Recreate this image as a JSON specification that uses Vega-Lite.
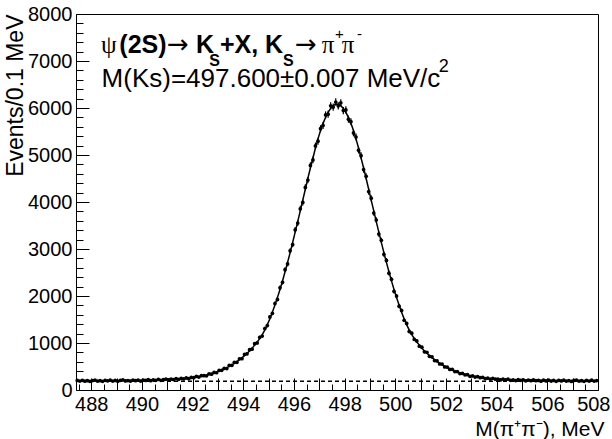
{
"$schema": "https://vega.github.io/schema/vega-lite/v6.json",
"width": 522, "height": 376,
"autosize": "none",
"padding": {"left": 76, "top": 14, "right": 14, "bottom": 49},
"background": "white",
"config": {"view": {"stroke": "black", "strokeWidth": 1}, "font": "Liberation Sans",
  "axis": {"grid": false, "domain": false, "labelFont": "Liberation Sans", "labelFontSize": 20, "labelColor": "black", "tickColor": "black", "titleFont": "Liberation Sans", "titleFontWeight": "normal", "titleColor": "black", "labelOverlap": false}},
"datasets": {"h": [
{"x":487.45,"y":204,"e":14,"f":196},{"x":487.55,"y":190,"e":14,"f":196},{"x":487.65,"y":207,"e":14,"f":196},{"x":487.75,"y":187,"e":14,"f":196},{"x":487.85,"y":199,"e":14,"f":196},{"x":487.95,"y":184,"e":14,"f":196},{"x":488.05,"y":202,"e":14,"f":196},{"x":488.15,"y":211,"e":15,"f":197},{"x":488.25,"y":190,"e":14,"f":197},{"x":488.35,"y":198,"e":14,"f":197},
{"x":488.45,"y":186,"e":14,"f":197},{"x":488.55,"y":206,"e":14,"f":197},{"x":488.65,"y":195,"e":14,"f":198},{"x":488.75,"y":210,"e":14,"f":198},{"x":488.85,"y":190,"e":14,"f":198},{"x":488.95,"y":203,"e":14,"f":199},{"x":489.05,"y":185,"e":14,"f":199},{"x":489.15,"y":206,"e":14,"f":199},{"x":489.25,"y":213,"e":15,"f":200},{"x":489.35,"y":194,"e":14,"f":200},
{"x":489.45,"y":202,"e":14,"f":200},{"x":489.55,"y":191,"e":14,"f":201},{"x":489.65,"y":211,"e":15,"f":201},{"x":489.75,"y":198,"e":14,"f":202},{"x":489.85,"y":209,"e":14,"f":203},{"x":489.95,"y":191,"e":14,"f":204},{"x":490.05,"y":210,"e":14,"f":205},{"x":490.15,"y":204,"e":14,"f":206},{"x":490.25,"y":219,"e":15,"f":207},{"x":490.35,"y":199,"e":14,"f":208},
{"x":490.45,"y":217,"e":15,"f":210},{"x":490.55,"y":206,"e":14,"f":211},{"x":490.65,"y":227,"e":15,"f":213},{"x":490.75,"y":206,"e":14,"f":214},{"x":490.85,"y":220,"e":15,"f":217},{"x":490.95,"y":230,"e":15,"f":219},{"x":491.05,"y":215,"e":15,"f":222},{"x":491.15,"y":233,"e":15,"f":224},{"x":491.25,"y":223,"e":15,"f":227},{"x":491.35,"y":243,"e":16,"f":230},
{"x":491.45,"y":228,"e":15,"f":234},{"x":491.55,"y":247,"e":16,"f":237},{"x":491.65,"y":238,"e":15,"f":241},{"x":491.75,"y":257,"e":16,"f":245},{"x":491.85,"y":242,"e":16,"f":251},{"x":491.95,"y":268,"e":16,"f":260},{"x":492.05,"y":261,"e":16,"f":266},{"x":492.15,"y":291,"e":17,"f":277},{"x":492.25,"y":276,"e":17,"f":286},{"x":492.35,"y":304,"e":17,"f":295},
{"x":492.45,"y":305,"e":17,"f":301},{"x":492.55,"y":301,"e":17,"f":313},{"x":492.65,"y":345,"e":19,"f":330},{"x":492.75,"y":337,"e":18,"f":345},{"x":492.85,"y":374,"e":19,"f":363},{"x":492.95,"y":367,"e":19,"f":381},{"x":493.05,"y":418,"e":20,"f":401},{"x":493.15,"y":419,"e":20,"f":425},{"x":493.25,"y":461,"e":21,"f":448},{"x":493.35,"y":457,"e":21,"f":475},
{"x":493.45,"y":524,"e":23,"f":504},{"x":493.55,"y":524,"e":23,"f":534},{"x":493.65,"y":588,"e":24,"f":566},{"x":493.75,"y":589,"e":24,"f":604},{"x":493.85,"y":664,"e":26,"f":646},{"x":493.95,"y":667,"e":26,"f":687},{"x":494.05,"y":756,"e":27,"f":731},{"x":494.15,"y":769,"e":28,"f":781},{"x":494.25,"y":859,"e":29,"f":831},{"x":494.35,"y":868,"e":29,"f":890},
{"x":494.45,"y":985,"e":31,"f":955},{"x":494.55,"y":1002,"e":32,"f":1020},{"x":494.65,"y":1121,"e":33,"f":1096},{"x":494.75,"y":1149,"e":34,"f":1179},{"x":494.85,"y":1308,"e":36,"f":1273},{"x":494.95,"y":1371,"e":37,"f":1391},{"x":495.05,"y":1554,"e":39,"f":1514},{"x":495.15,"y":1631,"e":40,"f":1656},{"x":495.25,"y":1839,"e":43,"f":1809},{"x":495.35,"y":1928,"e":44,"f":1968},
{"x":495.45,"y":2174,"e":47,"f":2139},{"x":495.55,"y":2291,"e":48,"f":2321},{"x":495.65,"y":2561,"e":51,"f":2516},{"x":495.75,"y":2681,"e":52,"f":2716},{"x":495.85,"y":2962,"e":54,"f":2922},{"x":495.95,"y":3095,"e":56,"f":3140},{"x":496.05,"y":3408,"e":58,"f":3358},{"x":496.15,"y":3552,"e":60,"f":3582},{"x":496.25,"y":3856,"e":62,"f":3811},{"x":496.35,"y":3991,"e":63,"f":4041},
{"x":496.45,"y":4311,"e":66,"f":4271},{"x":496.55,"y":4466,"e":67,"f":4501},{"x":496.65,"y":4779,"e":69,"f":4724},{"x":496.75,"y":4896,"e":70,"f":4936},{"x":496.85,"y":5193,"e":72,"f":5148},{"x":496.95,"y":5293,"e":73,"f":5343},{"x":497.05,"y":5560,"e":75,"f":5520},{"x":497.15,"y":5628,"e":75,"f":5673},{"x":497.25,"y":5852,"e":76,"f":5802},{"x":497.35,"y":5868,"e":77,"f":5908},
{"x":497.45,"y":6046,"e":78,"f":5991},{"x":497.55,"y":6020,"e":78,"f":6050},{"x":497.65,"y":6127,"e":78,"f":6082},{"x":497.75,"y":6047,"e":78,"f":6082},{"x":497.85,"y":6110,"e":78,"f":6050},{"x":497.95,"y":5946,"e":77,"f":5991},{"x":498.05,"y":5958,"e":77,"f":5908},{"x":498.15,"y":5762,"e":76,"f":5802},{"x":498.25,"y":5708,"e":76,"f":5673},{"x":498.35,"y":5470,"e":74,"f":5520},
{"x":498.45,"y":5383,"e":73,"f":5343},{"x":498.55,"y":5103,"e":71,"f":5148},{"x":498.65,"y":4986,"e":71,"f":4936},{"x":498.75,"y":4689,"e":68,"f":4724},{"x":498.85,"y":4546,"e":67,"f":4501},{"x":498.95,"y":4221,"e":65,"f":4271},{"x":499.05,"y":4081,"e":64,"f":4041},{"x":499.15,"y":3766,"e":61,"f":3811},{"x":499.25,"y":3617,"e":60,"f":3582},{"x":499.35,"y":3318,"e":58,"f":3358},
{"x":499.45,"y":3185,"e":56,"f":3140},{"x":499.55,"y":2887,"e":54,"f":2922},{"x":499.65,"y":2756,"e":52,"f":2716},{"x":499.75,"y":2486,"e":50,"f":2516},{"x":499.85,"y":2356,"e":49,"f":2321},{"x":499.95,"y":2099,"e":46,"f":2139},{"x":500.05,"y":1998,"e":45,"f":1968},{"x":500.15,"y":1784,"e":42,"f":1809},{"x":500.25,"y":1691,"e":41,"f":1656},{"x":500.35,"y":1484,"e":39,"f":1514},
{"x":500.45,"y":1416,"e":38,"f":1391},{"x":500.55,"y":1245,"e":35,"f":1273},{"x":500.65,"y":1209,"e":35,"f":1179},{"x":500.75,"y":1076,"e":33,"f":1096},{"x":500.85,"y":1045,"e":32,"f":1020},{"x":500.95,"y":933,"e":31,"f":955},{"x":501.05,"y":910,"e":30,"f":890},{"x":501.15,"y":813,"e":29,"f":831},{"x":501.25,"y":803,"e":28,"f":781},{"x":501.35,"y":716,"e":27,"f":731},
{"x":501.45,"y":705,"e":27,"f":687},{"x":501.55,"y":626,"e":25,"f":646},{"x":501.65,"y":619,"e":25,"f":604},{"x":501.75,"y":554,"e":24,"f":566},{"x":501.85,"y":551,"e":23,"f":534},{"x":501.95,"y":490,"e":22,"f":504},{"x":502.05,"y":487,"e":22,"f":475},{"x":502.15,"y":438,"e":21,"f":448},{"x":502.25,"y":439,"e":21,"f":425},{"x":502.35,"y":392,"e":20,"f":401},
{"x":502.45,"y":392,"e":20,"f":381},{"x":502.55,"y":350,"e":19,"f":363},{"x":502.65,"y":353,"e":19,"f":345},{"x":502.75,"y":324,"e":18,"f":330},{"x":502.85,"y":325,"e":18,"f":313},{"x":502.95,"y":291,"e":17,"f":301},{"x":503.05,"y":300,"e":17,"f":295},{"x":503.15,"y":274,"e":17,"f":286},{"x":503.25,"y":286,"e":17,"f":277},{"x":503.35,"y":262,"e":16,"f":266},
{"x":503.45,"y":270,"e":16,"f":260},{"x":503.55,"y":240,"e":15,"f":251},{"x":503.65,"y":251,"e":16,"f":245},{"x":503.75,"y":233,"e":15,"f":241},{"x":503.85,"y":250,"e":16,"f":237},{"x":503.95,"y":229,"e":15,"f":234},{"x":504.05,"y":233,"e":15,"f":230},{"x":504.15,"y":215,"e":15,"f":227},{"x":504.25,"y":233,"e":15,"f":224},{"x":504.35,"y":216,"e":15,"f":222},
{"x":504.45,"y":230,"e":15,"f":219},{"x":504.55,"y":207,"e":14,"f":217},{"x":504.65,"y":218,"e":15,"f":214},{"x":504.75,"y":200,"e":14,"f":213},{"x":504.85,"y":219,"e":15,"f":211},{"x":504.95,"y":207,"e":14,"f":210},{"x":505.05,"y":218,"e":15,"f":208},{"x":505.15,"y":195,"e":14,"f":207},{"x":505.25,"y":212,"e":15,"f":206},{"x":505.35,"y":197,"e":14,"f":205},
{"x":505.45,"y":217,"e":15,"f":204},{"x":505.55,"y":198,"e":14,"f":203},{"x":505.65,"y":204,"e":14,"f":202},{"x":505.75,"y":187,"e":14,"f":201},{"x":505.85,"y":210,"e":14,"f":201},{"x":505.95,"y":194,"e":14,"f":200},{"x":506.05,"y":212,"e":15,"f":200},{"x":506.15,"y":190,"e":14,"f":200},{"x":506.25,"y":204,"e":14,"f":199},{"x":506.35,"y":186,"e":14,"f":199},
{"x":506.45,"y":207,"e":14,"f":199},{"x":506.55,"y":194,"e":14,"f":198},{"x":506.65,"y":209,"e":14,"f":198},{"x":506.75,"y":189,"e":14,"f":198},{"x":506.85,"y":200,"e":14,"f":197},{"x":506.95,"y":182,"e":13,"f":197},{"x":507.05,"y":204,"e":14,"f":197},{"x":507.15,"y":211,"e":15,"f":197},{"x":507.25,"y":189,"e":14,"f":197},{"x":507.35,"y":198,"e":14,"f":196},
{"x":507.45,"y":185,"e":14,"f":196},{"x":507.55,"y":206,"e":14,"f":196},{"x":507.65,"y":191,"e":14,"f":196},{"x":507.75,"y":209,"e":14,"f":196},{"x":507.85,"y":189,"e":14,"f":196},{"x":507.95,"y":200,"e":14,"f":196}
]},
"layer": [
 {"data": {"name": "h"}, "mark": {"type": "point", "opacity": 0},
  "encoding": {
   "x": {"field": "x", "type": "quantitative", "scale": {"domain": [487.4, 508], "nice": false, "zero": false},
     "axis": {"orient": "bottom", "values": [487.5,488.5,489,489.5,490.5,491,491.5,492.5,493,493.5,494.5,495,495.5,496.5,497,497.5,498.5,499,499.5,500.5,501,501.5,502.5,503,503.5,504.5,505,505.5,506.5,507,507.5], "labels": false, "title": null, "tickSize": -6}},
   "y": {"field": "y", "type": "quantitative", "scale": {"domain": [0, 8000], "nice": false},
     "axis": {"orient": "left", "values": [200,400,600,800,1200,1400,1600,1800,2200,2400,2600,2800,3200,3400,3600,3800,4200,4400,4600,4800,5200,5400,5600,5800,6200,6400,6600,6800,7200,7400,7600,7800], "labels": false, "title": null, "tickSize": -7}}
  }},
 {"data": {"name": "h"}, "mark": {"type": "line", "color": "black", "strokeWidth": 1.5},
  "encoding": {
   "x": {"field": "x", "type": "quantitative",
     "axis": {"orient": "bottom", "values": [488,489,490,491,492,493,494,495,496,497,498,499,500,501,502,503,504,505,506,507,508], "format": "d", "labelExpr": "datum.value % 2 == 0 ? datum.label : ''", "labelFlush": true, "labelFlushOffset": 12, "tickSize": -12, "labelPadding": 16, "title": "M(π⁺π⁻), MeV", "titleFontSize": 21, "titleAnchor": "end", "titleAlign": "right", "titleX": 528, "titleY": 45, "titleBaseline": "alphabetic"}},
   "y": {"field": "f", "type": "quantitative",
     "axis": {"orient": "left", "values": [0,1000,2000,3000,4000,5000,6000,7000,8000], "format": "d", "labelFlush": false, "tickSize": -13, "labelPadding": 17, "title": "Events/0.1 MeV", "titleFontSize": 23, "titleAnchor": "end", "titleAlign": "right", "titleAngle": -90, "titleX": -54, "titleY": 0, "titleBaseline": "alphabetic"}}
  }},
 {"data": {"values": [{"x": 487.4, "b": 188}, {"x": 508, "b": 188}]}, "mark": {"type": "line", "color": "black", "strokeWidth": 1.5, "strokeDash": [4, 3]},
  "encoding": {"x": {"field": "x", "type": "quantitative", "axis": null}, "y": {"field": "b", "type": "quantitative", "axis": null}}},
 {"data": {"name": "h"}, "mark": {"type": "errorbar", "color": "black", "thickness": 1.2},
  "encoding": {"x": {"field": "x", "type": "quantitative", "axis": null}, "y": {"field": "y", "type": "quantitative", "axis": null}, "yError": {"field": "e"}}},
 {"data": {"name": "h"}, "mark": {"type": "point", "filled": true, "shape": "circle", "size": 14, "color": "black", "opacity": 1},
  "encoding": {"x": {"field": "x", "type": "quantitative", "axis": null}, "y": {"field": "y", "type": "quantitative", "axis": null}}},
 {"data": {"values": [{"x": 488.39, "y": 7164, "t": "ψ"}, {"x": 497.10, "y": 7164, "t": "π"}, {"x": 497.885, "y": 7164, "t": "π"}]},
  "mark": {"type": "text", "align": "left", "baseline": "alphabetic", "fontSize": 25, "font": "Liberation Serif", "color": "black"},
  "encoding": {"x": {"field": "x", "type": "quantitative", "axis": null}, "y": {"field": "y", "type": "quantitative", "axis": null}, "text": {"field": "t"}}},
 {"data": {"values": [{"x": 490.99, "y": 7164, "t": "→"}, {"x": 496.04, "y": 7164, "t": "→"}]},
  "mark": {"type": "text", "align": "left", "baseline": "alphabetic", "fontSize": 26, "font": "DejaVu Sans", "color": "black"},
  "encoding": {"x": {"field": "x", "type": "quantitative", "axis": null}, "y": {"field": "y", "type": "quantitative", "axis": null}, "text": {"field": "t"}}},
 {"data": {"values": [{"x": 497.62, "y": 7470, "t": "+"}, {"x": 498.49, "y": 7470, "t": "-"}]},
  "mark": {"type": "text", "align": "left", "baseline": "alphabetic", "fontSize": 15, "font": "Liberation Sans", "color": "black"},
  "encoding": {"x": {"field": "x", "type": "quantitative", "axis": null}, "y": {"field": "y", "type": "quantitative", "axis": null}, "text": {"field": "t"}}},
 {"data": {"values": [{"x": 489.11, "y": 7164, "t": "(2S)"}, {"x": 492.14, "y": 7164, "t": "K"}, {"x": 493.08, "y": 7164, "t": "+X, K"}]},
  "mark": {"type": "text", "align": "left", "baseline": "alphabetic", "fontSize": 25, "fontWeight": "bold", "font": "Liberation Sans", "color": "black"},
  "encoding": {"x": {"field": "x", "type": "quantitative", "axis": null}, "y": {"field": "y", "type": "quantitative", "axis": null}, "text": {"field": "t"}}},
 {"data": {"values": [{"x": 492.66, "y": 6900, "t": "S"}, {"x": 495.57, "y": 6900, "t": "S"}]},
  "mark": {"type": "text", "align": "left", "baseline": "alphabetic", "fontSize": 16, "fontWeight": "bold", "font": "Liberation Sans", "color": "black"},
  "encoding": {"x": {"field": "x", "type": "quantitative", "axis": null}, "y": {"field": "y", "type": "quantitative", "axis": null}, "text": {"field": "t"}}},
 {"data": {"values": [{"x": 488.41, "y": 6453, "t": "M(Ks)=497.600±0.007 MeV/c"}]},
  "mark": {"type": "text", "align": "left", "baseline": "alphabetic", "fontSize": 26, "font": "Liberation Sans", "color": "black"},
  "encoding": {"x": {"field": "x", "type": "quantitative", "axis": null}, "y": {"field": "y", "type": "quantitative", "axis": null}, "text": {"field": "t"}}},
 {"data": {"values": [{"x": 501.72, "y": 6760, "t": "2"}]},
  "mark": {"type": "text", "align": "left", "baseline": "alphabetic", "fontSize": 18, "font": "Liberation Sans", "color": "black"},
  "encoding": {"x": {"field": "x", "type": "quantitative", "axis": null}, "y": {"field": "y", "type": "quantitative", "axis": null}, "text": {"field": "t"}}}
],
"resolve": {"axis": {"x": "independent", "y": "independent"}}
}
